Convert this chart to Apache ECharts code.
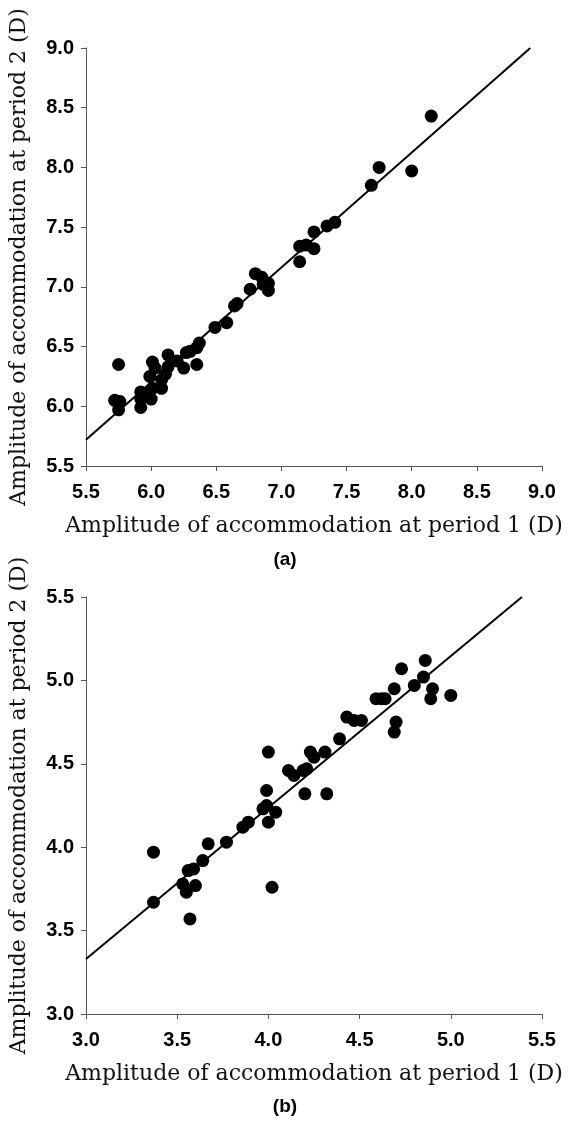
<!DOCTYPE html>
<html>
<head>
<meta charset="utf-8">
<script src="https://cdn.jsdelivr.net/npm/echarts@6/dist/echarts.min.js"></script>
<style>
html,body{margin:0;padding:0;background:#fff;}
#chart{width:570px;height:1126px;}
</style>
</head>
<body>
<div id="chart"></div>
<script>
// Panel (a): period 1 vs period 2
const xA = [5.72,5.75,5.76,5.75,5.92,5.92,5.92,5.98,6.00,6.01,5.99,6.01,6.03,6.08,6.08,6.11,6.13,6.13,6.20,6.25,6.27,6.30,6.35,6.35,6.37,6.49,6.58,6.64,6.66,6.76,6.80,6.85,6.86,6.90,6.90,7.14,7.14,7.19,7.25,7.25,7.35,7.41,7.69,7.75,8.00,8.15];
const yA = [6.05,6.35,6.04,5.97,5.99,6.06,6.12,6.11,6.06,6.15,6.25,6.37,6.32,6.15,6.22,6.27,6.33,6.43,6.38,6.32,6.45,6.46,6.35,6.49,6.53,6.66,6.70,6.84,6.86,6.98,7.11,7.08,7.02,7.03,6.97,7.21,7.34,7.35,7.32,7.46,7.51,7.54,7.85,8.00,7.97,8.43];
const fitLineAX = [5.5, 8.91];
const fitLineAY = [5.72, 9.0];

// Panel (b)
const xB = [3.37,3.37,3.53,3.55,3.57,3.56,3.59,3.60,3.64,3.67,3.77,3.86,3.89,3.97,3.99,3.99,4.00,4.00,4.04,4.02,4.11,4.14,4.19,4.21,4.20,4.23,4.25,4.31,4.32,4.39,4.43,4.47,4.51,4.59,4.62,4.64,4.69,4.69,4.70,4.73,4.80,4.85,4.86,4.90,4.89,5.00];
const yB = [3.97,3.67,3.78,3.73,3.57,3.86,3.87,3.77,3.92,4.02,4.03,4.12,4.15,4.23,4.25,4.34,4.15,4.57,4.21,3.76,4.46,4.43,4.46,4.47,4.32,4.57,4.54,4.57,4.32,4.65,4.78,4.76,4.76,4.89,4.89,4.89,4.95,4.69,4.75,5.07,4.97,5.02,5.12,4.95,4.89,4.91];
const fitLineBX = [3.0, 5.39];
const fitLineBY = [3.33, 5.5];

const ticksA = {min:5.5, max:9.0, interval:0.5};
const ticksB = {min:3.0, max:5.5, interval:0.5};

const xTitle = 'Amplitude of accommodation at period 1 (D)';
const yTitle = 'Amplitude of accommodation at period 2 (D)';
const panelLabels = ['(a)', '(b)'];

const zip = (a,b) => a.map((v,i)=>[v,b[i]]);

const axisCommon = {
  axisLine:{show:true,onZero:false,lineStyle:{color:'#555',width:1}},
  axisTick:{show:true,length:5,lineStyle:{color:'#555',width:1}},
  splitLine:{show:false},
  axisLabel:{fontFamily:'Liberation Sans, Arial, sans-serif',fontWeight:'bold',fontSize:20,color:'#000',formatter:v=>v.toFixed(1)},
  nameLocation:'middle',
  nameTextStyle:{fontFamily:'DejaVu Serif, serif',fontSize:22,color:'#111'}
};

function xAx(t, idx){
  return Object.assign({}, axisCommon, {type:'value', gridIndex:idx, min:t.min, max:t.max, interval:t.interval, name:xTitle, nameGap:49,
    axisLabel:Object.assign({}, axisCommon.axisLabel, {margin:16})});
}
function yAx(t, idx){
  return Object.assign({}, axisCommon, {type:'value', gridIndex:idx, min:t.min, max:t.max, interval:t.interval, name:yTitle, nameGap:56, nameRotate:90,
    axisLabel:Object.assign({}, axisCommon.axisLabel, {margin:12})});
}

const chart = echarts.init(document.getElementById('chart'), null, {renderer:'canvas'});
chart.setOption({
  backgroundColor:'#fff',
  animation:false,
  grid:[
    {left:86, top:48, width:456, height:418},
    {left:86, top:597, width:456, height:417}
  ],
  xAxis:[xAx(ticksA,0), xAx(ticksB,1)],
  yAxis:[yAx(ticksA,0), yAx(ticksB,1)],
  graphic:[
    {type:'text', left:'center', top:550, style:{text:panelLabels[0], font:'bold 19px Liberation Sans, Arial, sans-serif', fill:'#000'}},
    {type:'text', left:'center', top:1097, style:{text:panelLabels[1], font:'bold 19px Liberation Sans, Arial, sans-serif', fill:'#000'}}
  ],
  series:[
    {type:'line', xAxisIndex:0, yAxisIndex:0, data:zip(fitLineAX, fitLineAY), symbol:'none', lineStyle:{color:'#000',width:2}, z:1},
    {type:'scatter', xAxisIndex:0, yAxisIndex:0, data:zip(xA,yA), symbol:'circle', symbolSize:13, itemStyle:{color:'#000',opacity:1}, z:2},
    {type:'line', xAxisIndex:1, yAxisIndex:1, data:zip(fitLineBX, fitLineBY), symbol:'none', lineStyle:{color:'#000',width:2}, z:1},
    {type:'scatter', xAxisIndex:1, yAxisIndex:1, data:zip(xB,yB), symbol:'circle', symbolSize:13, itemStyle:{color:'#000',opacity:1}, z:2}
  ]
});
</script>
</body>
</html>
